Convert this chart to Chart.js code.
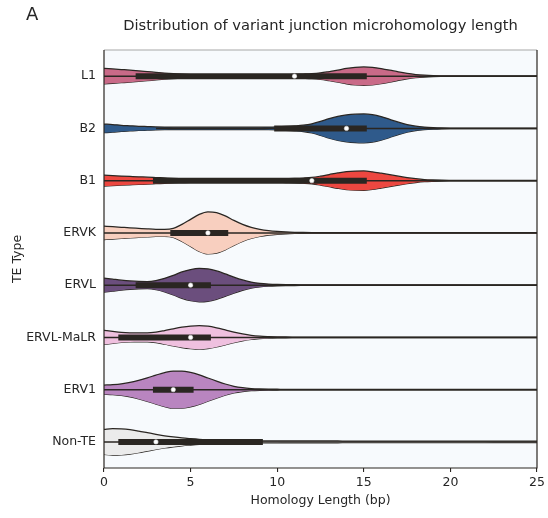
<!DOCTYPE html>
<html>
<head>
<meta charset="utf-8">
<script src="https://cdn.jsdelivr.net/npm/chart.js@4.4.1/dist/chart.umd.min.js"></script>
<style>
  html, body { margin: 0; padding: 0; background: #fff; }
  #wrap { width: 548px; height: 518px; }
</style>
</head>
<body>
<div id="wrap"><canvas id="chart"></canvas></div>
<script>
// --- Data ---
const teTypes = ['L1', 'B2', 'B1', 'ERVK', 'ERVL', 'ERVL-MaLR', 'ERV1', 'Non-TE'];

// x positions (bp) where the violin half-widths were read
const lengthGrid = [0,0.5,1,1.5,2,2.5,3,3.5,4,4.5,5,5.5,6,6.5,7,7.5,8,8.5,9,9.5,
  10,10.5,11,11.5,12,12.5,13,13.5,14,14.5,15,15.5,16,16.5,17,17.5,18,18.5,19,19.5,
  20,21,22,23,24,25];

// relative density (violin half-width) per type
const densL1 = [7.8,7.2,6.6,6.0,5.3,4.6,3.8,3.1,2.5,2.0,
  1.6,1.3,1.1,1.0,1.0,0.9,0.9,0.9,1.0,1.0,
  1.1,1.4,1.8,2.1,2.5,3.3,4.6,6.0,7.7,8.8,
  9.2,8.8,7.6,6.0,4.2,2.7,1.6,0.9,0.5,0.35,
  0.3,0.25,0.25,0.25,0.25,0.25];
const densB2 = [4.3,3.8,3.1,2.6,2.1,1.8,1.5,1.3,1.2,1.2,
  1.2,1.2,1.2,1.2,1.2,1.2,1.2,1.2,1.2,1.3,
  1.6,2.0,2.5,3.2,4.6,7.0,9.8,12.0,13.4,14.2,
  14.4,13.7,11.8,9.0,6.2,3.8,2.2,1.3,0.8,0.5,
  0.35,0.25,0.25,0.25,0.25,0.25];
const densB1 = [5.4,5.0,4.6,4.2,3.8,3.5,3.1,2.7,2.3,2.0,
  1.7,1.5,1.3,1.3,1.3,1.3,1.3,1.3,1.3,1.4,
  1.6,1.9,2.2,2.6,3.2,4.5,6.1,7.7,9.0,9.6,
  9.7,8.8,7.4,5.9,4.4,3.0,1.9,1.1,0.7,0.45,
  0.35,0.25,0.25,0.25,0.25,0.25];
const densERVK = [6.7,6.2,5.6,5.0,4.5,4.0,3.6,3.5,4.5,8.5,
  13.5,18.5,21.0,20.2,17.0,12.5,8.5,5.5,3.5,2.2,
  1.4,0.9,0.6,0.45,0.35,0.3,0.3,0.3,0.3,0.3,
  0.3,0.3,0.3,0.3,0.3,0.3,0.3,0.3,0.3,0.3,
  0.3,0.25,0.25,0.25,0.25,0.25];
const densERVL = [7.0,6.0,5.0,4.2,3.7,3.6,4.6,6.8,9.8,13.2,
  15.6,16.7,16.2,14.2,11.2,8.0,5.2,3.1,1.8,1.1,
  0.7,0.5,0.4,0.35,0.3,0.3,0.3,0.3,0.3,0.3,
  0.3,0.3,0.3,0.3,0.3,0.3,0.3,0.3,0.3,0.3,
  0.3,0.25,0.25,0.25,0.25,0.25];
const densMaLR = [7.0,6.0,5.1,4.6,4.4,4.4,5.2,6.8,8.6,10.2,
  11.3,11.8,11.2,9.6,7.5,5.3,3.4,2.0,1.2,0.8,
  0.55,0.4,0.35,0.3,0.3,0.3,0.3,0.3,0.3,0.3,
  0.3,0.3,0.3,0.3,0.3,0.3,0.3,0.3,0.3,0.3,
  0.3,0.25,0.25,0.25,0.25,0.25];
const densERV1 = [4.5,5.0,5.8,7.2,9.3,11.8,14.5,17.0,18.6,18.6,
  17.2,14.8,11.6,8.5,5.6,3.3,1.9,1.1,0.7,0.5,
  0.4,0.3,0.3,0.3,0.3,0.3,0.3,0.3,0.3,0.3,
  0.3,0.3,0.3,0.3,0.3,0.3,0.3,0.3,0.3,0.3,
  0.3,0.25,0.25,0.25,0.25,0.25];
const densNonTE = [12.5,13.2,13.0,12.2,10.8,9.2,7.6,6.1,4.9,3.9,
  3.2,2.6,2.2,1.9,1.6,1.4,1.3,1.2,1.1,1.0,
  1.0,0.95,0.95,0.9,0.9,0.9,0.9,0.9,0.85,0.85,
  0.85,0.85,0.85,0.8,0.8,0.8,0.8,0.8,0.8,0.8,
  0.8,0.75,0.75,0.7,0.7,0.7];
const densities = [densL1, densB2, densB1, densERVK, densERVL, densMaLR, densERV1, densNonTE];

// inner box stats (bp)
const q1 = [2, 10, 3, 4, 2, 1, 3, 1];
const medians = [11, 14, 12, 6, 5, 5, 4, 3];
const q3 = [15, 15, 15, 7, 6, 6, 5, 9];
const whiskerLow = [0, 3, 0, 0, 0, 0, 0, 0];
const whiskerHigh = [25, 25, 25, 25, 25, 25, 25, 25];

const xTicks = [0, 5, 10, 15, 20, 25];

// --- Style ---
const violinColors = ['#c96a88', '#2f5a8b', '#ec4740', '#f8cfbf', '#6b4e7d', '#efc0df', '#b985c0', '#ebebeb'];
const INK = '#2a2622';
const TEXT = '#262626';
const PLOT_BG = '#f7fafd';
const FONT = "'DejaVu Sans', sans-serif";
const ROW_PX = 52.25; // pixel height of one category row

// --- Datasets ---
const datasets = [];
densities.forEach((dens, i) => {
  const upper = lengthGrid.map((x, j) => ({ x, y: i - dens[j] / ROW_PX }));
  const lower = lengthGrid.map((x, j) => ({ x, y: i + dens[j] / ROW_PX }));
  const common = {
    borderColor: INK, borderWidth: 1.25, pointRadius: 0,
    cubicInterpolationMode: 'monotone', order: 3
  };
  datasets.push({ ...common, data: upper, backgroundColor: violinColors[i], fill: '+1' });
  datasets.push({ ...common, data: lower, fill: false });
});
teTypes.forEach((t, i) => {
  datasets.push({
    data: [{ x: whiskerLow[i], y: i }, { x: whiskerHigh[i], y: i }],
    borderColor: INK, borderWidth: 1.5, pointRadius: 0, fill: false, order: 2
  });
  datasets.push({
    data: [{ x: q1[i], y: i }, { x: q3[i], y: i }],
    borderColor: INK, borderWidth: 6, borderCapStyle: 'square',
    pointRadius: 0, fill: false, order: 1
  });
});
datasets.push({
  data: medians.map((m, i) => ({ x: m, y: i })),
  showLine: false, pointRadius: 2.2, pointBorderWidth: 0.6,
  pointBackgroundColor: '#ffffff', pointBorderColor: '#d8d8d8', order: 0
});

// --- Decorations: background, frame, titles ---
const decor = {
  id: 'decor',
  beforeDraw(chart) {
    const { ctx, chartArea: a } = chart;
    ctx.save();
    ctx.fillStyle = '#ffffff';
    ctx.fillRect(0, 0, chart.width, chart.height);
    ctx.fillStyle = PLOT_BG;
    ctx.fillRect(a.left, a.top, a.right - a.left, a.bottom - a.top);
    ctx.restore();
  },
  afterDraw(chart) {
    const { ctx, chartArea: a } = chart;
    ctx.save();
    ctx.lineWidth = 1.2;
    ctx.strokeStyle = '#a8a8a8';
    ctx.beginPath();
    ctx.moveTo(a.left, a.top); ctx.lineTo(a.right, a.top);
    ctx.stroke();
    ctx.strokeStyle = INK;
    ctx.beginPath();
    ctx.moveTo(a.left, a.top); ctx.lineTo(a.left, a.bottom);
    ctx.lineTo(a.right, a.bottom); ctx.lineTo(a.right, a.top);
    ctx.stroke();

    ctx.fillStyle = TEXT;
    ctx.textBaseline = 'middle';
    ctx.textAlign = 'center';
    ctx.font = '14.7px ' + FONT;
    ctx.fillText('Distribution of variant junction microhomology length', (a.left + a.right) / 2, 26);
    ctx.textAlign = 'left';
    ctx.font = '18px ' + FONT;
    ctx.fillText('A', 26, 15);
    ctx.restore();
  }
};

new Chart(document.getElementById('chart'), {
  type: 'line',
  data: { datasets },
  plugins: [decor],
  options: {
    responsive: true,
    maintainAspectRatio: false,
    animation: false,
    layout: { padding: { top: 50, right: 11, left: 0, bottom: 0 } },
    plugins: { legend: { display: false }, tooltip: { enabled: false } },
    scales: {
      x: {
        type: 'linear', min: 0, max: 25,
        afterBuildTicks: s => { s.ticks = xTicks.map(v => ({ value: v })); },
        afterFit: s => { s.height = 50; },
        ticks: { color: TEXT, font: { family: FONT, size: 12.5 }, padding: 3, maxRotation: 0 },
        grid: { drawOnChartArea: false, tickLength: 4, color: INK, lineWidth: 1.1 },
        border: { display: false },
        title: {
          display: true, text: 'Homology Length (bp)', color: TEXT,
          font: { family: FONT, size: 12.5 }, padding: { top: 2, bottom: 10 }
        }
      },
      y: {
        type: 'linear', reverse: true, min: -0.5, max: 7.5,
        afterBuildTicks: s => { s.ticks = teTypes.map((_, i) => ({ value: i })); },
        afterFit: s => { s.width = 104; },
        ticks: {
          color: TEXT, font: { family: FONT, size: 12.5 }, padding: 8,
          callback: v => teTypes[v]
        },
        grid: { drawOnChartArea: false, drawTicks: false },
        border: { display: false },
        title: {
          display: true, text: 'TE Type', color: TEXT,
          font: { family: FONT, size: 12.5 }, padding: { top: 10, bottom: 0 }
        }
      }
    }
  }
});
</script>
</body>
</html>
